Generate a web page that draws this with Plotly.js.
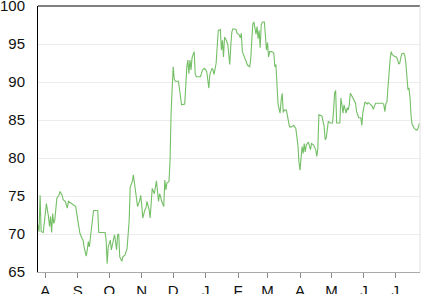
<!DOCTYPE html>
<html>
<head>
<meta charset="utf-8">
<script src="https://cdn.plot.ly/plotly-3.0.1.min.js"></script>
<style>html,body{margin:0;padding:0;background:#fff;}#chart{width:433px;height:294px;}</style>
</head>
<body>
<div id="chart"></div>
<script>
var dates = [
"2013-07-25","2013-07-26","2013-07-27","2013-07-28","2013-07-30","2013-08-01","2013-08-02","2013-08-04","2013-08-05","2013-08-06",
"2013-08-07","2013-08-08","2013-08-09","2013-08-10","2013-08-12","2013-08-14","2013-08-15","2013-08-17","2013-08-18","2013-08-20",
"2013-08-21","2013-08-22","2013-08-23","2013-08-25","2013-08-26","2013-08-29","2013-08-30","2013-09-01","2013-09-02","2013-09-03",
"2013-09-05","2013-09-06","2013-09-07","2013-09-09","2013-09-10","2013-09-11","2013-09-12","2013-09-13","2013-09-14","2013-09-15",
"2013-09-16","2013-09-20","2013-09-21","2013-09-26","2013-09-27","2013-09-28","2013-09-29","2013-09-30","2013-10-02","2013-10-03",
"2013-10-04","2013-10-06","2013-10-07","2013-10-08","2013-10-09","2013-10-10","2013-10-11","2013-10-13","2013-10-14","2013-10-16",
"2013-10-18","2013-10-19","2013-10-20","2013-10-21","2013-10-23","2013-10-24","2013-10-25","2013-10-27","2013-10-28","2013-10-30",
"2013-10-31","2013-11-01","2013-11-02","2013-11-04","2013-11-05","2013-11-06","2013-11-08","2013-11-09","2013-11-10","2013-11-11",
"2013-11-13","2013-11-14","2013-11-15","2013-11-17","2013-11-18","2013-11-19","2013-11-20","2013-11-22","2013-11-23","2013-11-24",
"2013-11-25","2013-11-27","2013-11-28","2013-11-29","2013-11-30","2013-12-01","2013-12-02","2013-12-03","2013-12-06","2013-12-08",
"2013-12-09","2013-12-12","2013-12-13","2013-12-14","2013-12-15","2013-12-16","2013-12-17","2013-12-18","2013-12-19","2013-12-20",
"2013-12-21","2013-12-22","2013-12-23","2013-12-27","2013-12-29","2013-12-31","2014-01-02","2014-01-03","2014-01-04","2014-01-05",
"2014-01-07","2014-01-08","2014-01-09","2014-01-11","2014-01-12","2014-01-13","2014-01-15","2014-01-16","2014-01-17","2014-01-18",
"2014-01-19","2014-01-20","2014-01-22","2014-01-23","2014-01-24","2014-01-25","2014-01-26","2014-01-27","2014-01-30","2014-01-31",
"2014-02-02","2014-02-03","2014-02-04","2014-02-05","2014-02-06","2014-02-08","2014-02-10","2014-02-12","2014-02-13","2014-02-14",
"2014-02-15","2014-02-16","2014-02-17","2014-02-18","2014-02-19","2014-02-20","2014-02-21","2014-02-22","2014-02-23","2014-02-24",
"2014-02-26","2014-02-27","2014-02-28","2014-03-01","2014-03-02","2014-03-03","2014-03-05","2014-03-07","2014-03-08","2014-03-09",
"2014-03-10","2014-03-11","2014-03-12","2014-03-13","2014-03-14","2014-03-15","2014-03-16","2014-03-17","2014-03-19","2014-03-20",
"2014-03-21","2014-03-22","2014-03-24","2014-03-26","2014-03-28","2014-03-29","2014-03-30","2014-03-31","2014-04-01","2014-04-02",
"2014-04-03","2014-04-04","2014-04-05","2014-04-06","2014-04-07","2014-04-09","2014-04-11","2014-04-12","2014-04-14","2014-04-16",
"2014-04-17","2014-04-18","2014-04-19","2014-04-21","2014-04-22","2014-04-23","2014-04-24","2014-04-25","2014-04-26","2014-04-27",
"2014-04-28","2014-04-30","2014-05-02","2014-05-03","2014-05-04","2014-05-05","2014-05-06","2014-05-09","2014-05-10","2014-05-11",
"2014-05-12","2014-05-13","2014-05-14","2014-05-15","2014-05-16","2014-05-17","2014-05-18","2014-05-19","2014-05-20","2014-05-21",
"2014-05-22","2014-05-23","2014-05-24","2014-05-25","2014-05-26","2014-05-27","2014-05-29","2014-05-30","2014-05-31","2014-06-01",
"2014-06-02","2014-06-04","2014-06-05","2014-06-07","2014-06-08","2014-06-09","2014-06-10","2014-06-11","2014-06-12","2014-06-15",
"2014-06-19","2014-06-20","2014-06-21","2014-06-22","2014-06-23","2014-06-24","2014-06-25","2014-06-26","2014-06-27","2014-06-28",
"2014-06-30","2014-07-02","2014-07-03","2014-07-04","2014-07-05","2014-07-06","2014-07-07","2014-07-09","2014-07-10","2014-07-11",
"2014-07-12","2014-07-13","2014-07-14","2014-07-15","2014-07-16","2014-07-17","2014-07-18","2014-07-19","2014-07-21","2014-07-22",
"2014-07-23","2014-07-24"
];
var values = [
71.2,70.3,75.1,70.3,70.2,72.7,74.0,72.3,71.0,72.3,
70.2,72.7,71.4,71.8,74.7,75.1,75.6,75.1,74.5,74.3,
73.8,73.4,74.3,74.1,74.1,73.8,73.6,71.8,70.5,70.1,
69.4,69.2,68.3,67.1,67.9,69.0,68.3,69.6,70.3,71.8,
73.1,73.1,70.2,70.2,70.2,69.2,66.1,68.3,69.2,67.9,
68.7,69.9,69.0,67.9,69.9,70.0,67.0,66.4,67.0,67.2,
68.1,69.7,71.8,76.2,76.9,77.8,76.7,74.0,73.6,74.4,
75.1,73.8,72.1,73.2,73.4,74.3,73.2,72.1,74.9,76.0,
75.3,76.2,77.0,74.3,75.3,74.9,74.3,73.6,77.1,75.8,
76.7,76.9,79.7,86.0,89.8,92.0,90.4,90.1,90.1,87.6,
87.0,87.1,89.8,92.0,92.9,91.1,92.9,91.6,93.2,93.8,
94.0,91.1,90.7,90.7,91.6,91.8,91.4,90.3,89.2,91.0,
91.8,91.6,91.0,92.5,95.0,96.8,96.9,94.2,95.5,93.3,
95.9,95.7,95.0,93.8,92.3,94.9,96.6,97.0,96.9,96.4,
96.2,95.8,96.4,94.0,93.6,93.0,92.2,92.0,93.0,95.5,
97.6,97.9,97.1,96.3,97.3,95.7,96.8,94.5,97.5,97.9,
97.9,96.4,94.2,95.2,93.3,94.0,94.0,93.8,92.0,92.3,
89.5,87.2,86.5,85.9,87.6,88.5,86.0,86.3,86.3,85.5,
84.5,84.1,84.1,84.3,83.9,83.0,81.7,79.5,78.4,80.0,
81.5,80.6,81.9,80.8,81.7,82.1,81.1,81.9,81.7,81.1,
80.2,81.2,85.7,85.6,85.5,84.8,84.2,82.4,82.6,83.7,
84.8,84.6,84.6,86.1,88.5,88.9,84.6,84.6,87.9,87.0,
85.9,87.0,86.3,85.9,86.6,86.3,87.0,88.5,88.3,88.0,
87.9,87.5,87.2,86.1,85.7,85.3,85.3,84.3,86.0,86.8,
87.4,87.1,87.3,87.1,87.0,86.8,86.4,86.8,87.2,87.2,
87.2,87.0,86.1,87.2,87.4,89.4,91.5,93.0,94.0,93.6,
93.4,93.3,93.0,92.4,92.4,93.4,93.7,93.8,93.5,92.5,
90.5,89.0,89.2,87.9,85.5,84.4,84.2,83.9,83.7,83.7,
84.1,84.6
];
var monthTicks = ["2013-08-01","2013-09-01","2013-10-01","2013-11-01","2013-12-01","2014-01-01","2014-02-01","2014-03-01","2014-04-01","2014-05-01","2014-06-01","2014-07-01"];
var monthLabels = ["A","S","O","N","D","J","F","M","A","M","J","J"];
var yTicks = [65,70,75,80,85,90,95,100];

var trace = {
  x: dates, y: values, type: 'scatter', mode: 'lines',
  line: {color: '#74bf66', width: 1.1},
  hoverinfo: 'skip'
};
var layout = {
  width: 433, height: 294,
  margin: {l: 38, r: 13, t: 6, b: 22, pad: 0},
  paper_bgcolor: '#fff', plot_bgcolor: '#fff',
  showlegend: false,
  font: {family: 'Liberation Sans, Arial, sans-serif', color: '#111', size: 15},
  xaxis: {
    type: 'date',
    range: ['2013-07-25 00:00', '2014-07-24 12:00'],
    tickmode: 'array', tickvals: monthTicks, ticktext: monthLabels,
    ticks: 'outside', ticklen: 5, tickcolor: '#888', tickwidth: 1,
    ticklabeloverflow: 'allow',
    showgrid: false, zeroline: false,
    showline: true, linecolor: '#aaa', linewidth: 1,
    tickfont: {size: 15, color: '#111'}
  },
  yaxis: {
    range: [65, 100],
    tickmode: 'array', tickvals: yTicks,
    ticks: 'outside', ticklen: 9, tickcolor: 'rgba(0,0,0,0)',
    ticklabeloverflow: 'allow',
    showgrid: true, gridcolor: '#ececec', gridwidth: 1,
    zeroline: false,
    showline: true, linecolor: '#000', linewidth: 1,
    tickfont: {size: 15, color: '#111'}
  },
  shapes: [
    {type: 'line', xref: 'paper', yref: 'paper', x0: 0, x1: 1, y0: 1, y1: 1, line: {color: '#000', width: 1}},
    {type: 'line', xref: 'paper', yref: 'paper', x0: 1, x1: 1, y0: 0, y1: 1, line: {color: '#e0e0e0', width: 1}}
  ]
};
Plotly.newPlot('chart', [trace], layout, {staticPlot: true, displayModeBar: false});
</script>
</body>
</html>
